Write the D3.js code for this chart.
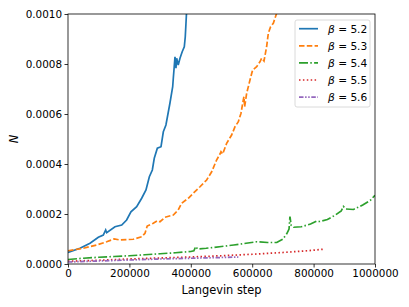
<!DOCTYPE html>
<html>
<head>
<meta charset="utf-8">
<script src="https://cdn.jsdelivr.net/npm/d3@7"></script>
<style>
  body { margin: 0; background: #fff; }
  text { font-family: "DejaVu Sans", sans-serif; }
</style>
</head>
<body>
<svg id="chart" width="409" height="307"></svg>
<script>
// N vs Langevin step, one series per beta
const betas = ['5.2', '5.3', '5.4', '5.5', '5.6'];
const colors = ['#1f77b4', '#ff7f0e', '#2ca02c', '#d62728', '#9467bd'];

const steps52 = [0, 39000, 71700, 98800, 115000, 122700, 126000, 153000, 175000, 191000, 205000, 223700, 240000, 254000, 265000, 274700, 281000, 291000, 303000, 310500, 319000, 332000, 341000, 343000, 346000, 348500, 351700, 354000, 359000, 364800, 372000, 378800, 382000, 384300, 386500, 388000];
const vals52 = [4.6e-5, 6.3e-5, 8.3e-5, 1.07e-4, 1.16e-4, 1.36e-4, 1.25e-4, 1.49e-4, 1.56e-4, 1.76e-4, 2.09e-4, 2.29e-4, 2.63e-4, 2.96e-4, 3.49e-4, 3.76e-4, 4.23e-4, 4.63e-4, 4.69e-4, 5.29e-4, 5.56e-4, 6.43e-4, 7.09e-4, 7.43e-4, 7.89e-4, 8.29e-4, 7.83e-4, 8.23e-4, 7.96e-4, 8.23e-4, 8.49e-4, 8.69e-4, 9.09e-4, 9.63e-4, 1.016e-3, 1.07e-3];

const steps53 = [0, 50000, 93500, 126000, 150000, 169000, 212700, 240000, 250800, 258000, 277800, 291000, 299600, 316000, 343000, 359000, 370000, 391800, 408000, 430000, 451600, 468000, 484000, 495000, 498300, 503800, 516800, 533000, 544000, 554800, 563500, 569000, 573000, 575400, 582000, 592800, 601400, 614500, 625300, 630800, 638400, 647000, 652500, 660000, 668800, 679600, 686000];
const vals53 = [5.3e-5, 6.3e-5, 7.6e-5, 8.9e-5, 1.0e-4, 9.6e-5, 9.9e-5, 1.09e-4, 1.23e-4, 1.52e-4, 1.63e-4, 1.73e-4, 1.69e-4, 1.87e-4, 1.96e-4, 2.16e-4, 2.43e-4, 2.63e-4, 2.83e-4, 3.09e-4, 3.36e-4, 3.69e-4, 4.16e-4, 4.40e-4, 4.49e-4, 4.40e-4, 4.83e-4, 5.16e-4, 5.49e-4, 5.69e-4, 6.03e-4, 6.43e-4, 6.69e-4, 6.29e-4, 6.83e-4, 7.36e-4, 7.76e-4, 7.89e-4, 8.09e-4, 8.23e-4, 8.12e-4, 8.69e-4, 9.23e-4, 9.49e-4, 9.63e-4, 1.003e-3, 1.04e-3];

const steps54 = [0, 50000, 100000, 150000, 200000, 250000, 300000, 350000, 400000, 410000, 416000, 422000, 450000, 500000, 540000, 580000, 615000, 650000, 680000, 700000, 712000, 720000, 723000, 727000, 735000, 760000, 790000, 810000, 820000, 845000, 870000, 890000, 897000, 905000, 930000, 960000, 985000, 1000000];
const vals54 = [1.8e-5, 2.3e-5, 2.7e-5, 3.0e-5, 3.3e-5, 3.7e-5, 4.1e-5, 4.5e-5, 5.0e-5, 5.3e-5, 7.0e-5, 6.0e-5, 6.3e-5, 7.0e-5, 7.6e-5, 8.3e-5, 8.9e-5, 8.6e-5, 8.6e-5, 1.0e-4, 1.2e-4, 1.4e-4, 1.9e-4, 1.55e-4, 1.47e-4, 1.49e-4, 1.6e-4, 1.72e-4, 1.7e-4, 1.78e-4, 1.95e-4, 2.12e-4, 2.30e-4, 2.2e-4, 2.18e-4, 2.36e-4, 2.55e-4, 2.75e-4];

const steps55 = [0, 100000, 200000, 300000, 400000, 500000, 600000, 700000, 780000, 832000];
const vals55 = [1.1e-5, 1.5e-5, 2.0e-5, 2.4e-5, 2.8e-5, 3.3e-5, 3.9e-5, 4.6e-5, 5.3e-5, 5.9e-5];

const steps56 = [0, 100000, 200000, 300000, 400000, 500000, 555000];
const vals56 = [8e-6, 1.2e-5, 1.6e-5, 2.0e-5, 2.3e-5, 2.6e-5, 2.8e-5];

const xTicks = [0, 200000, 400000, 600000, 800000, 1000000];
const yTicks = [0, 0.0002, 0.0004, 0.0006, 0.0008, 0.0010];

const seriesSteps = [steps52, steps53, steps54, steps55, steps56];
const seriesVals = [vals52, vals53, vals54, vals55, vals56];
const dashes = [null, '5.5,2.3', '9,2.3,1.5,2.3', '1.5,2.4', '4.5,1.6,1.5,1.6,1.5,1.6'];

const plotLeft = 68, plotRight = 375, plotTop = 14, plotBottom = 264;
const svg = d3.select('#chart');

const x = d3.scaleLinear().domain([0, 1000000]).range([plotLeft, plotRight]);
const y = d3.scaleLinear().domain([0, 0.001]).range([plotBottom, plotTop]);

svg.append('defs').append('clipPath').attr('id', 'plot-clip')
  .append('rect')
  .attr('x', plotLeft).attr('y', plotTop)
  .attr('width', plotRight - plotLeft).attr('height', plotBottom - plotTop);

const line = d3.line().x(d => x(d[0])).y(d => y(d[1]));

seriesSteps.forEach((steps, i) => {
  const pts = steps.map((s, j) => [s, seriesVals[i][j]]);
  svg.append('path')
    .datum(pts)
    .attr('clip-path', 'url(#plot-clip)')
    .attr('fill', 'none')
    .attr('stroke', colors[i])
    .attr('stroke-width', 1.7)
    .attr('stroke-dasharray', dashes[i])
    .attr('d', line);
});

// axes
const xAxis = svg.append('g')
  .attr('transform', `translate(0,${plotBottom})`)
  .call(d3.axisBottom(x).tickValues(xTicks).tickFormat(d3.format('d')).tickSize(3.5).tickPadding(2.5));
const yAxis = svg.append('g')
  .attr('transform', `translate(${plotLeft},0)`)
  .call(d3.axisLeft(y).tickValues(yTicks).tickFormat(d3.format('.4f')).tickSize(3.5).tickPadding(2.5));

[xAxis, yAxis].forEach(g => {
  g.select('.domain').remove();
  g.selectAll('line').attr('stroke', '#000').attr('stroke-width', 0.8);
  g.selectAll('text').attr('font-size', 10.4).attr('fill', '#000')
    .style('font-family', '"DejaVu Sans", sans-serif');
});

svg.append('rect')
  .attr('x', plotLeft).attr('y', plotTop)
  .attr('width', plotRight - plotLeft).attr('height', plotBottom - plotTop)
  .attr('fill', 'none').attr('stroke', '#000').attr('stroke-width', 0.8);

svg.append('text')
  .attr('x', (plotLeft + plotRight) / 2).attr('y', 293.5)
  .attr('text-anchor', 'middle').attr('font-size', 11.4)
  .text('Langevin step');

svg.append('text')
  .attr('transform', `translate(18,${(plotTop + plotBottom) / 2}) rotate(-90)`)
  .attr('text-anchor', 'middle').attr('font-size', 11.4)
  .attr('font-style', 'italic')
  .text('N');

// legend
const legend = svg.append('g');
legend.append('rect')
  .attr('x', 295).attr('y', 20).attr('width', 75).attr('height', 87)
  .attr('rx', 2).attr('fill', '#fff').attr('fill-opacity', 0.8)
  .attr('stroke', '#d0d0d0').attr('stroke-width', 0.8);

betas.forEach((b, i) => {
  const ly = 28.7 + i * 17.1;
  legend.append('line')
    .attr('x1', 299).attr('x2', 318).attr('y1', ly).attr('y2', ly)
    .attr('stroke', colors[i]).attr('stroke-width', 1.7)
    .attr('stroke-dasharray', dashes[i]);
  const t = legend.append('text')
    .attr('x', 328).attr('y', ly + 3.8).attr('font-size', 10.6);
  t.append('tspan').attr('font-style', 'italic').text('β');
  t.append('tspan').text(' = ' + b);
});
</script>
</body>
</html>
